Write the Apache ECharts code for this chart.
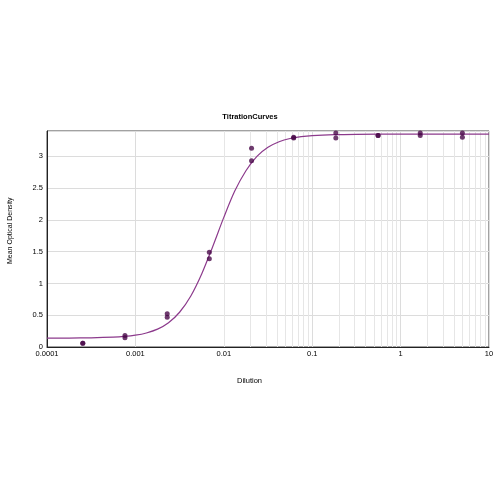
<!DOCTYPE html>
<html>
<head>
<meta charset="utf-8">
<script src="https://cdn.jsdelivr.net/npm/echarts@6/dist/echarts.min.js"></script>
<style>html,body{margin:0;padding:0;background:#fff}#c{width:500px;height:500px}</style>
</head>
<body>
<div id="c"></div>
<script>
// Dilution series (x) and replicate optical densities (y)
const dilutions = [0.000254, 0.000762, 0.00229, 0.00686, 0.0206, 0.0617, 0.185, 0.556, 1.667, 5.0];
const odRep1 = [0.06, 0.18, 0.525, 1.49, 3.13, 3.30, 3.37, 3.33, 3.37, 3.37];
const odRep2 = [0.06, 0.145, 0.47, 1.39, 2.93, 3.29, 3.29, 3.33, 3.33, 3.30];
// Fitted curve
const curveX = [0.0001, 0.000178, 0.000316, 0.000562, 0.00075, 0.001, 0.00133, 0.00178, 0.00237, 0.00316, 0.00422, 0.00562, 0.0075, 0.01, 0.0133, 0.0178, 0.0237, 0.0316, 0.0422, 0.0562, 0.075, 0.1, 0.178, 0.316, 1, 10];
const curveY = [0.140, 0.141, 0.145, 0.155, 0.166, 0.186, 0.221, 0.281, 0.382, 0.547, 0.799, 1.149, 1.583, 2.040, 2.454, 2.775, 3.000, 3.143, 3.230, 3.282, 3.311, 3.328, 3.343, 3.348, 3.350, 3.350];
const xTickLabels = ['0.0001', '0.001', '0.01', '0.1', '1', '10'];
const minorGridX = [];
[0.0001, 0.001, 0.01, 0.1, 1].forEach(d => { for (let k = 2; k <= 9; k++) minorGridX.push(+(d * k).toPrecision(3)); });

const font = 'Liberation Sans';
const chart = echarts.init(document.getElementById('c'), null, {renderer: 'canvas'});
chart.setOption({
  animation: false,
  backgroundColor: '#fff',
  title: {
    text: 'TitrationCurves', left: 'center', top: 108,
    textStyle: {fontFamily: font, fontSize: 7.5, fontWeight: 'bold', color: '#000'}
  },
  graphic: [
    {type: 'text', left: 237, top: 377, style: {text: 'Dilution', fontFamily: font, fontSize: 7.5, fill: '#000'}},
    {type: 'text', x: 7, y: 264, rotation: Math.PI / 2, style: {text: 'Mean Optical Density', fontFamily: font, fontSize: 7, fill: '#000'}}
  ],
  grid: {left: 47, right: 11, top: 131, bottom: 153, show: true, borderColor: '#444', borderWidth: 1, containLabel: false},
  xAxis: {
    type: 'log', logBase: 10, min: 0.0001, max: 10,
    axisLine: {show: true, lineStyle: {color: '#222', width: 1}},
    axisTick: {show: false},
    splitLine: {show: true, lineStyle: {color: '#dcdcdc', width: 1}},
    axisLabel: {
      fontFamily: font, fontSize: 7.5, color: '#000', margin: 3,
      formatter: v => { const i = Math.round(Math.log10(v)) + 4; return xTickLabels[i] || ''; }
    }
  },
  yAxis: {
    type: 'value', min: 0, max: 3.4, interval: 0.5,
    axisLine: {show: true, lineStyle: {color: '#222', width: 1}},
    axisTick: {show: false},
    splitLine: {show: true, lineStyle: {color: '#dcdcdc', width: 1}},
    axisLabel: {fontFamily: font, fontSize: 7.5, color: '#000', margin: 4, showMaxLabel: false,
      formatter: v => String(v)}
  },
  series: [
    {
      type: 'line', data: curveX.map((x, i) => [x, curveY[i]]), smooth: 0.3, showSymbol: false,
      lineStyle: {color: '#8c3a8c', width: 1.2}, z: 3,
      markLine: {
        silent: true, symbol: 'none', label: {show: false},
        lineStyle: {color: '#e6e6e6', width: 1, type: 'solid'},
        data: minorGridX.map(x => ({xAxis: x})), z: 1
      }
    },
    {type: 'scatter', data: dilutions.map((x, i) => [x, odRep1[i]]), symbolSize: 5, itemStyle: {color: '#4a0a4a'}, z: 4},
    {type: 'scatter', data: dilutions.map((x, i) => [x, odRep2[i]]), symbolSize: 5, itemStyle: {color: '#4a0a4a'}, z: 4}
  ]
});
</script>
</body>
</html>
